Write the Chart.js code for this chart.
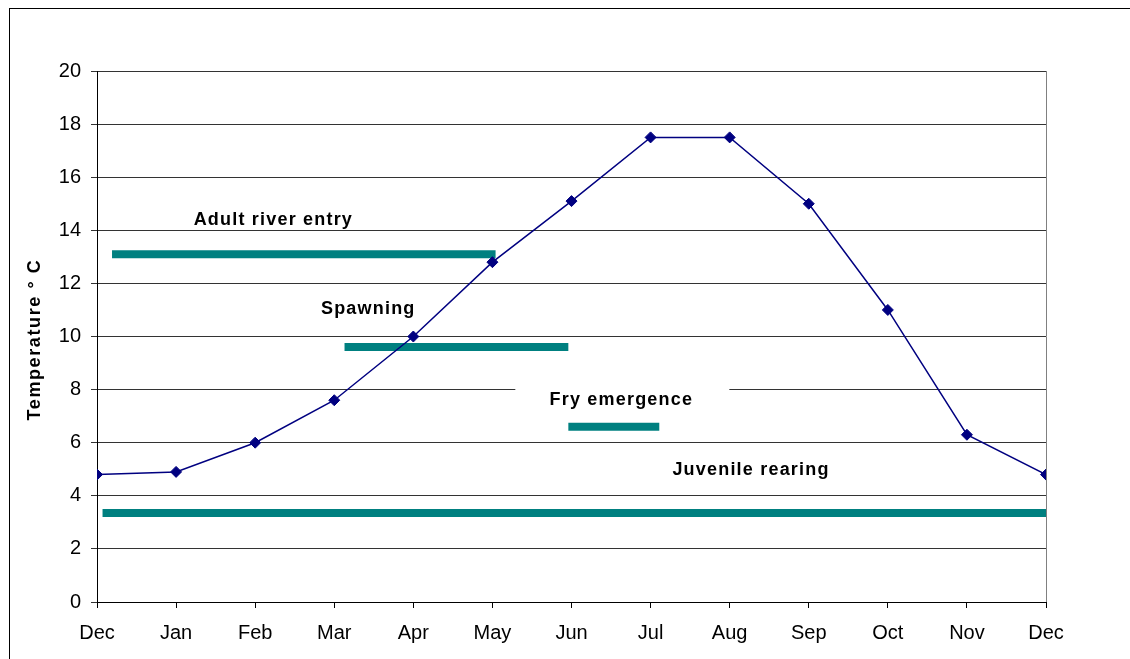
<!DOCTYPE html>
<html>
<head>
<meta charset="utf-8">
<script src="https://cdn.jsdelivr.net/npm/chart.js@4"></script>
<style>
  html, body { margin: 0; padding: 0; background: #fff; }
</style>
</head>
<body>
<canvas id="chart" width="1130" height="659"></canvas>
<script>
const months = ["Dec", "Jan", "Feb", "Mar", "Apr", "May", "Jun", "Jul", "Aug", "Sep", "Oct", "Nov", "Dec"];
const temps = [4.8, 4.9, 6.0, 7.6, 10.0, 12.8, 15.1, 17.5, 17.5, 15.0, 11.0, 6.3, 4.8];

// life stage periods (x in months from first Dec, y = temperature level of the bar)
const stageNames = ["Adult river entry", "Spawning", "Fry emergence", "Juvenile rearing"];
const stageStart = [0.19, 3.13, 5.96, 0.07];
const stageEnd = [5.04, 5.96, 7.11, 12];
const stageLevel = [13.1, 9.6, 6.6, 3.35];
// where each stage name sits, in chart units
const stageLabelX = [2.23, 3.43, 6.63, 8.27];
const stageLabelY = [14.39, 11.04, 7.61, 4.97];

const yTitle = "Temperature ° C";
const FONT = "'Liberation Sans', Arial, sans-serif";

const stageSets = stageNames.map((name, i) => ({
  label: name,
  data: [{ x: stageStart[i], y: stageLevel[i] }, { x: stageEnd[i], y: stageLevel[i] }],
  borderColor: "#008080",
  borderWidth: 8,
  borderCapStyle: "butt",
  pointRadius: 0,
  order: 1,
}));

const decor = {
  id: "decor",
  beforeDatasetsDraw(chart) {
    // white box behind "Fry emergence"
    const { ctx, scales: { x, y } } = chart;
    const cx = x.getPixelForValue(stageLabelX[2]);
    const cy = y.getPixelForValue(stageLabelY[2]);
    ctx.save();
    ctx.fillStyle = "#fff";
    ctx.fillRect(cx - 106, cy - 18, 214, 36);
    ctx.restore();
  },
  afterDatasetsDraw(chart) {
    const { ctx, chartArea: a, scales: { x, y } } = chart;
    ctx.save();
    ctx.strokeStyle = "#808080";
    ctx.lineWidth = 1;
    ctx.beginPath();
    ctx.moveTo(a.right + 0.5, a.top);
    ctx.lineTo(a.right + 0.5, a.bottom);
    ctx.stroke();

    ctx.fillStyle = "#000";
    ctx.font = "bold 18px " + FONT;
    ctx.letterSpacing = "1.2px";
    ctx.textAlign = "center";
    ctx.textBaseline = "middle";
    stageNames.forEach((n, i) => {
      ctx.fillText(n, x.getPixelForValue(stageLabelX[i]), y.getPixelForValue(stageLabelY[i]));
    });

    // y axis title
    ctx.letterSpacing = "1.6px";
    ctx.translate(35, (a.top + a.bottom) / 2 + 3);
    ctx.rotate(-Math.PI / 2);
    ctx.fillText(yTitle, 0, 0);
    ctx.restore();
  },
  afterDraw(chart) {
    const ctx = chart.ctx;
    ctx.save();
    ctx.strokeStyle = "#000";
    ctx.lineWidth = 1;
    ctx.strokeRect(9.5, 8.5, 1300, 800);
    ctx.restore();
  },
};

new Chart(document.getElementById("chart"), {
  type: "line",
  data: {
    datasets: [
      {
        label: "Temperature",
        data: temps.map((t, i) => ({ x: i, y: t })),
        borderColor: "#000080",
        borderWidth: 1.5,
        pointStyle: "rectRot",
        pointRadius: 5.5,
        pointBackgroundColor: "#000080",
        pointBorderColor: "#000080",
        pointBorderWidth: 1,
        order: 0,
      },
      ...stageSets,
    ],
  },
  options: {
    responsive: false,
    animation: false,
    events: [],
    layout: { padding: { left: 0, top: 71, right: 84, bottom: 0 } },
    plugins: { legend: { display: false }, tooltip: { enabled: false } },
    scales: {
      x: {
        type: "linear",
        min: 0,
        max: 12,
        afterBuildTicks: (s) => { s.ticks = months.map((m, i) => ({ value: i })); },
        afterFit: (s) => { s.height = 57; },
        ticks: {
          autoSkip: false,
          maxRotation: 0,
          color: "#000",
          padding: 13,
          font: { size: 20, family: FONT },
          callback: (v) => months[v],
        },
        grid: { drawOnChartArea: false, color: "#000", tickLength: 6 },
        border: { color: "#000" },
      },
      y: {
        min: 0,
        max: 20,
        afterFit: (s) => { s.width = 97; },
        ticks: {
          stepSize: 2,
          color: "#000",
          padding: 10,
          font: { size: 20, family: FONT },
        },
        grid: { color: "#333", tickLength: 6 },
        border: { color: "#000" },
      },
    },
  },
  plugins: [decor],
});
</script>
</body>
</html>
